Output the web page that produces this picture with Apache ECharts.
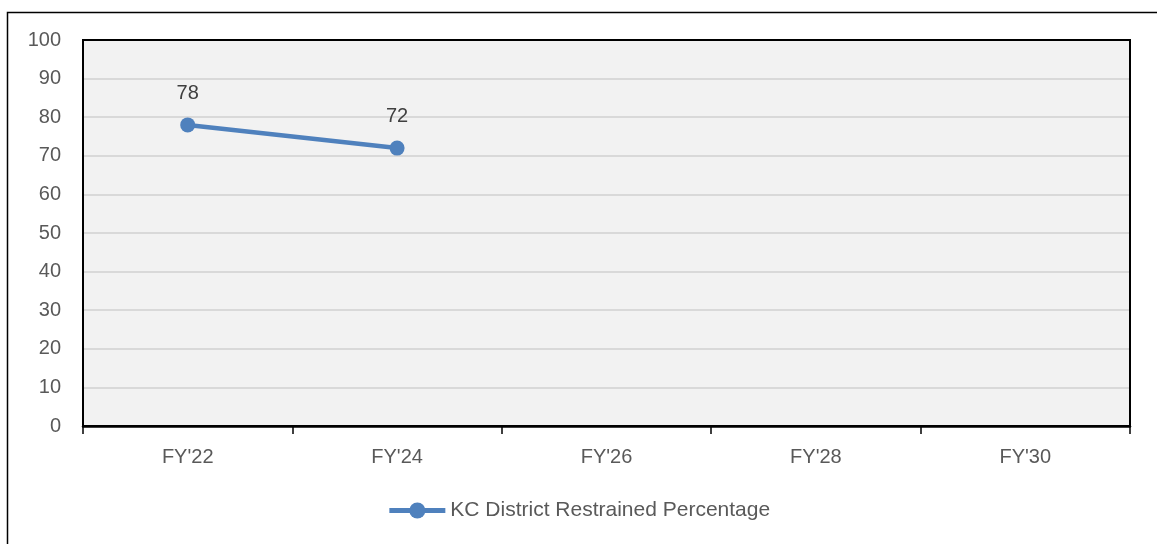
<!DOCTYPE html>
<html><head><meta charset="utf-8">
<script src="https://cdn.jsdelivr.net/npm/echarts@6/dist/echarts.min.js"></script>
<style>html,body{margin:0;padding:0;background:#fff}#c{width:1157px;height:544px}</style>
</head><body><div id="c"></div>
<script>
const categories = ["FY'22", "FY'24", "FY'26", "FY'28", "FY'30"];
const seriesName = "KC District Restrained Percentage";
const values = [78, 72, null, null, null];
const yTicks = { min: 0, max: 100, interval: 10 };
const FONT = "Liberation Sans";
const G = { left: 83, top: 40, right: 27, bottom: 118 };
const W = 1157, H = 544;
const chart = echarts.init(document.getElementById('c'));
chart.setOption({
  animation: false,
  textStyle: { fontFamily: FONT },
  graphic: [
    { type: 'rect', shape: { x: 7.5, y: 12.5, width: 1200, height: 600 }, style: { fill: 'none', stroke: '#000', lineWidth: 1.5 }, z: -1 },
    { type: 'rect', shape: { x: G.left, y: G.top, width: W - G.left - G.right, height: H - G.top - G.bottom }, style: { fill: 'none', stroke: '#000', lineWidth: 2 }, z: 1 }
  ],
  grid: { left: G.left, top: G.top, right: G.right, bottom: G.bottom, show: true, backgroundColor: '#f2f2f2', borderWidth: 0 },
  legend: { bottom: 18, left: 'center', itemWidth: 56, itemHeight: 20, itemGap: 4, data: [seriesName],
    lineStyle: { width: 5 },
    textStyle: { fontSize: 21, color: '#595959', fontFamily: FONT } },
  xAxis: { type: 'category', data: categories, boundaryGap: true,
    axisLine: { lineStyle: { color: '#000', width: 2.5 } },
    axisTick: { show: true, length: 8, lineStyle: { color: '#000', width: 1.5 } },
    axisLabel: { fontSize: 20, color: '#595959', margin: 21, fontFamily: FONT } },
  yAxis: { type: 'value', min: yTicks.min, max: yTicks.max, interval: yTicks.interval,
    axisLine: { show: false }, axisTick: { show: false },
    axisLabel: { fontSize: 20, color: '#595959', margin: 22, fontFamily: FONT },
    splitLine: { lineStyle: { color: '#d9d9d9', width: 2 } } },
  series: [{ name: seriesName, type: 'line', data: values, connectNulls: false,
    symbol: 'circle', symbolSize: 15,
    lineStyle: { color: '#4f81bd', width: 4.5 }, itemStyle: { color: '#4f81bd' },
    label: { show: true, position: 'top', distance: 14, fontSize: 20, color: '#404040', fontFamily: FONT } }]
});
</script></body></html>
